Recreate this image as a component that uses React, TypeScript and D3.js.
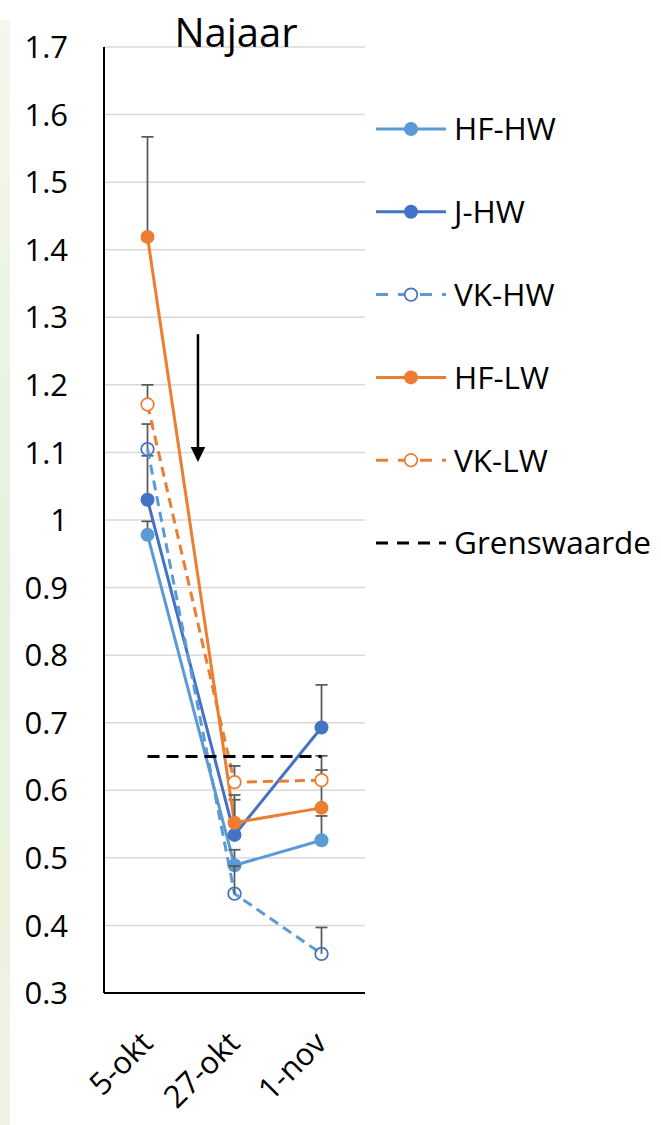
import React from "react";
import * as d3 from "d3";

// categories and values
const categories = ["5-okt", "27-okt", "1-nov"];
const tickValues = [0.3, 0.4, 0.5, 0.6, 0.7, 0.8, 0.9, 1.0, 1.1, 1.2, 1.3, 1.4, 1.5, 1.6, 1.7];
const tickLabels = ["0.3", "0.4", "0.5", "0.6", "0.7", "0.8", "0.9", "1", "1.1", "1.2", "1.3", "1.4", "1.5", "1.6", "1.7"];

const hfHw = [0.978, 0.489, 0.526];
const hfHwErr = [0.02, 0.023, 0.036];
const jHw = [1.03, 0.534, 0.693];
const jHwErr = [0.065, 0.052, 0.063];
const vkHw = [1.105, 0.447, 0.358];
const vkHwErr = [0.037, 0.041, 0.039];
const hfLw = [1.419, 0.552, 0.574];
const hfLwErr = [0.148, 0.041, 0.056];
const vkLw = [1.171, 0.612, 0.615];
const vkLwErr = [0.029, 0.024, 0.036];
const grenswaarde = [0.65, 0.65, 0.65];

// annotation arrow (value from -> to, placed 0.58 step right of the first category)
const arrowFrom = 1.275;
const arrowTo = 1.086;
const arrowStep = 0.58;

const series = [
  { name: "HF-HW", values: hfHw, err: hfHwErr, line: "#5B9BD5", marker: "#5B9BD5", fill: "#5B9BD5", dash: null },
  { name: "J-HW", values: jHw, err: jHwErr, line: "#4472C4", marker: "#4472C4", fill: "#4472C4", dash: null },
  { name: "VK-HW", values: vkHw, err: vkHwErr, line: "#5B9BD5", marker: "#4472C4", fill: "none", dash: "10,6" },
  { name: "HF-LW", values: hfLw, err: hfLwErr, line: "#ED7D31", marker: "#ED7D31", fill: "#ED7D31", dash: null },
  { name: "VK-LW", values: vkLw, err: vkLwErr, line: "#ED7D31", marker: "#ED7D31", fill: "#fff", dash: "10,6" },
];

const W = 661;
const H = 1125;
const font = "'Open Sans', 'DejaVu Sans', sans-serif";

export default function App() {
  const x = d3.scalePoint<string>().domain(categories).range([104, 365]).padding(0.5);
  const y = d3.scaleLinear().domain([0.3, 1.7]).range([993, 47]);
  const step = x.step();

  const line = d3
    .line<number>()
    .x((_, i) => x(categories[i]) as number)
    .y((d) => y(d));

  const legendY = (i: number) => 129 + i * 82.8;
  const ax = (x(categories[0]) as number) + step * arrowStep;

  return (
    <svg width={W} height={H} style={{ position: "absolute", left: 0, top: 0 }}>
      <defs>
        <linearGradient id="bg" x1="0" y1="0" x2="0" y2="1">
          <stop offset="0" stopColor="#F3F8EE" />
          <stop offset="0.5" stopColor="#E6F0DA" />
          <stop offset="1" stopColor="#EEF4E2" />
        </linearGradient>
      </defs>
      <rect width={W} height={H} fill="#fff" />
      <rect x={0} y={20} width={10} height={H - 20} fill="url(#bg)" />

      {/* grid */}
      {tickValues.map((t) => (
        <line key={t} x1={104} x2={365} y1={y(t)} y2={y(t)} stroke="#D9D9D9" strokeWidth={1.5} />
      ))}
      {/* axes */}
      <line x1={104} x2={104} y1={y(1.7)} y2={y(0.3)} stroke="#000" strokeWidth={2} />
      <line x1={104} x2={365} y1={y(0.3)} y2={y(0.3)} stroke="#000" strokeWidth={2} />

      {tickValues.map((t, i) => (
        <text key={t} x={68} y={y(t)} dy="0.36em" textAnchor="end" fontFamily={font} fontSize={31} fill="#000">
          {tickLabels[i]}
        </text>
      ))}

      {categories.map((c) => (
        <text
          key={c}
          transform={`translate(${(x(c) as number) + 7},1045) rotate(-45)`}
          textAnchor="end"
          fontFamily={font}
          fontSize={31}
          fill="#000"
        >
          {c}
        </text>
      ))}

      <text x={236} y={47} textAnchor="middle" fontFamily={font} fontSize={40} fill="#000">
        Najaar
      </text>

      {/* series */}
      {series.map((s) => (
        <g key={s.name}>
          <path d={line(s.values) || ""} fill="none" stroke={s.line} strokeWidth={3} strokeDasharray={s.dash || undefined} />
          {s.values.map((v, i) => {
            const cx = x(categories[i]) as number;
            return (
              <g key={i} stroke="#595959" strokeWidth={1.75}>
                <line x1={cx} x2={cx} y1={y(v)} y2={y(v + s.err[i])} />
                <line x1={cx - 6} x2={cx + 6} y1={y(v + s.err[i])} y2={y(v + s.err[i])} />
              </g>
            );
          })}
          {s.values.map((v, i) =>
            s.fill === s.marker ? (
              <circle key={i} cx={x(categories[i])} cy={y(v)} r={7} fill={s.fill} />
            ) : (
              <circle key={i} cx={x(categories[i])} cy={y(v)} r={6.3} fill={s.fill} stroke={s.marker} strokeWidth={1.75} />
            )
          )}
        </g>
      ))}

      {/* grenswaarde */}
      <path d={line(grenswaarde) || ""} fill="none" stroke="#000" strokeWidth={3} strokeDasharray="12,7" />

      {/* arrow */}
      <line x1={ax} x2={ax} y1={y(arrowFrom)} y2={y(arrowTo) - 14} stroke="#000" strokeWidth={2.5} />
      <path d={`M${ax - 7.3},${y(arrowTo) - 15}L${ax + 7.3},${y(arrowTo) - 15}L${ax},${y(arrowTo)}Z`} fill="#000" />

      {/* legend */}
      {series.map((s, i) => {
        const ly = legendY(i);
        return (
          <g key={s.name}>
            <line x1={376} x2={446} y1={ly} y2={ly} stroke={s.line} strokeWidth={3} strokeDasharray={s.dash ? "12,10" : undefined} />
            {s.fill === s.marker ? (
              <circle cx={411} cy={ly} r={7} fill={s.fill} />
            ) : (
              <circle cx={411} cy={ly} r={6.3} fill="#fff" stroke={s.marker} strokeWidth={1.75} />
            )}
            <text x={454} y={ly} dy="0.36em" fontFamily={font} fontSize={31.5} fill="#000">
              {s.name}
            </text>
          </g>
        );
      })}
      <line x1={376} x2={446} y1={legendY(5)} y2={legendY(5)} stroke="#000" strokeWidth={3} strokeDasharray="12,9" />
      <text x={454} y={legendY(5)} dy="0.36em" fontFamily={font} fontSize={31.5} fill="#000">
        Grenswaarde
      </text>
    </svg>
  );
}
